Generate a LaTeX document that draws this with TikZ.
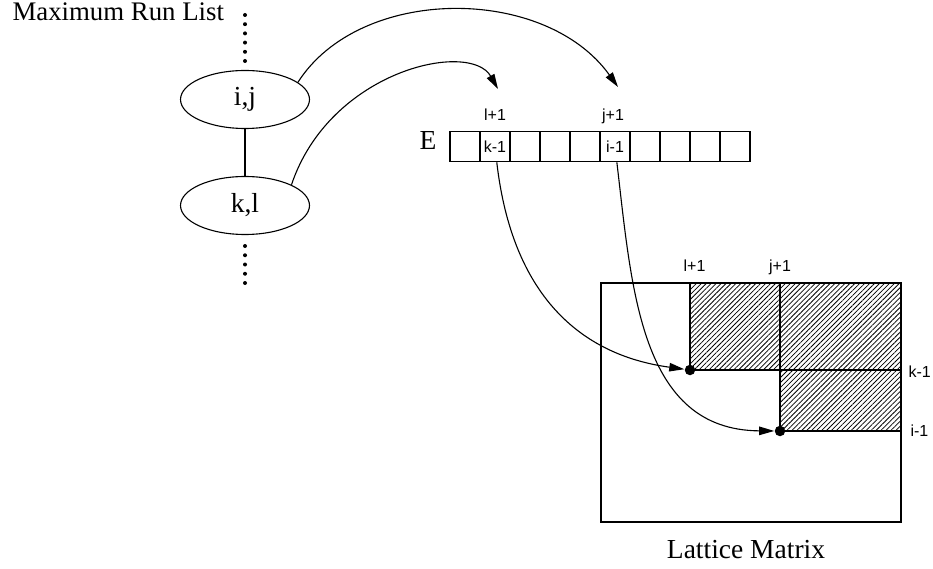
\documentclass[tikz,border=0pt]{standalone}
\usepackage{fontspec}
\setmainfont{Liberation Serif}
\setsansfont{Liberation Sans}
\usetikzlibrary{shapes.geometric,arrows.meta,patterns.meta}
\begin{document}
\begin{tikzpicture}[x=1pt,y=-1pt,line width=1.1pt,
  serif/.style={font=\fontsize{27.5}{31}\selectfont,inner sep=0pt},
  sans/.style={font=\sffamily\fontsize{16}{19}\selectfont,inner sep=0pt},
  runnode/.style={ellipse,draw,minimum width=129pt,minimum height=58pt,inner sep=0pt,font=\fontsize{27.5}{31}\selectfont},
  cell/.style={draw,minimum width=30pt,minimum height=30pt,inner sep=0pt,font=\sffamily\fontsize{16}{19}\selectfont},
  dotnode/.style={circle,fill,minimum size=10.5pt,inner sep=0pt},
  arr/.style={-{Triangle[length=15pt,width=8.5pt]}},
  hatch/.style={pattern={Lines[angle=45,distance=3.5pt,line width=0.75pt]}}]
\useasboundingbox (0,0) rectangle (933,569);
% title
\node[serif,font=\fontsize{26.8}{31}\selectfont,anchor=base west] (title) at (12,21) {Maximum Run List};
% run list
\foreach \y in {15,24.2,33.4,42.6,51.8,61} \fill (245,\y) circle (2pt);
\foreach \y in {246,255.25,264.5,273.75,283} \fill (245,\y) circle (2pt);
\node[runnode] (ij) at (245,99.5) {i,j};
\node[runnode] (kl) at (245,205.5) {k,l};
\draw (ij) -- (kl);
% array E
\node[serif,anchor=base east] (E) at (437,150) {E};
\foreach \i/\t in {1/,2/k-1,3/,4/,5/,6/i-1,7/,8/,9/,10/}
  \node[cell] (c\i) at (435+30*\i,146.7) {\t};
\node[sans,anchor=base] (lab1) at (495,121) {l+1};
\node[sans,anchor=base] (lab2) at (613,121) {j+1};
\coordinate (tipA) at (618,87);
\coordinate (tipB) at (498,89);
\draw[arr] (ij.18) .. controls (360,-15) and (545,-15) .. (tipA);
\draw[arr] (kl.24) .. controls (330,70) and (470,40) .. (tipB);
% lattice matrix
\fill[hatch] (690,283) rectangle (901,370);
\fill[hatch] (780,370) rectangle (901,431);
\draw (601,283) rectangle (901,522);
\draw (690,283) -- (690,370) -- (901,370);
\draw (780,283) -- (780,431) -- (901,431);
\node[dotnode] (d1) at (690,370) {};
\node[dotnode] (d2) at (780,431) {};
\node[sans,anchor=base] (ml1) at (694.5,271) {l+1};
\node[sans,anchor=base] (mj1) at (780,271) {j+1};
\node[sans,anchor=base west] (mk1) at (908,377) {k-1};
\node[sans,anchor=base west] (mi1) at (910,436) {i-1};
\node[serif,anchor=base] (lm) at (746,558) {Lattice Matrix};
\draw[arr] (c2) .. controls (512,295) and (580,355) .. (d1);
\draw[arr] (c6) .. controls (632,290) and (640,430) .. (d2);
\end{tikzpicture}
\end{document}
